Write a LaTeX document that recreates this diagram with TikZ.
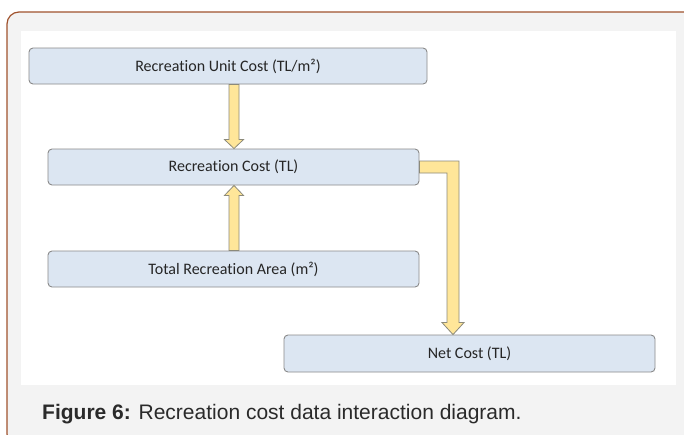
\documentclass[tikz,border=0pt]{standalone}
\usepackage{fontspec}
\setmainfont[Ligatures=NoCommon]{Carlito}
\newfontfamily\capfont{Liberation Sans}
\usetikzlibrary{calc}
\definecolor{boxfill}{HTML}{DCE6F2}
\definecolor{boxline}{HTML}{8A8A8A}
\definecolor{arrfill}{HTML}{FFE699}
\definecolor{arrline}{HTML}{8C8A7A}
\definecolor{framefill}{HTML}{F3F3F3}
\definecolor{frameline}{HTML}{A0522D}
\definecolor{captext}{HTML}{2A2A2A}
\tikzset{
  databox/.style={draw=boxline, fill=boxfill, line width=0.9pt, rounded corners=4pt,
    minimum height=36pt, inner sep=0pt, font=\fontsize{16}{19}\selectfont, text=black!85},
  blockarrow/.style={draw=arrline, fill=arrfill, line width=0.8pt, line join=miter}
}
\begin{document}
\begin{tikzpicture}[x=1pt,y=-1pt]
\useasboundingbox (0,0) rectangle (684,434);
\clip (0,0) rectangle (684,434);
\fill[white] (0,0) rectangle (684,434);
% outer frame
\draw[frameline, fill=framefill, line width=1.2pt, rounded corners=12pt] (7,12) rectangle (696,446);
% inner white panel
\fill[white] (21,31) rectangle (676,385);
% boxes
\node[databox, minimum width=398pt] (b1) at (228,66) {Recreation Unit Cost (TL/m²)};
\node[databox, minimum width=371pt] (b2) at (233.5,167) {Recreation Cost (TL)};
\node[databox, minimum width=371pt] (b3) at (233.5,269) {Total Recreation Area (m²)};
\node[databox, minimum width=371pt, minimum height=37pt] (b4) at (469.5,353.5) {Net Cost (TL)};
\coordinate (ax) at (234,0);
\coordinate (cx) at (453,0);
% arrow 1: b1 -> b2 (down); canvas y grows upward inside let
\path let \p1=(ax), \p2=(b1.south), \p3=(b2.north) in
  coordinate (a1s) at (\x1,\y2) coordinate (a1t) at (\x1,\y3);
\draw[blockarrow] let \p1=(a1s), \p2=(a1t) in
  (\x1-5pt,\y1) -- (\x1+5pt,\y1) -- (\x1+5pt,\y2+9pt) -- (\x1+9.5pt,\y2+9pt) -- (\x1,\y2)
  -- (\x1-9.5pt,\y2+9pt) -- (\x1-5pt,\y2+9pt) -- cycle;
% arrow 2: b3 -> b2 (up)
\path let \p1=(ax), \p2=(b3.north), \p3=(b2.south) in
  coordinate (a2s) at (\x1,\y2) coordinate (a2t) at (\x1,\y3);
\draw[blockarrow] let \p1=(a2s), \p2=(a2t) in
  (\x1-5pt,\y1) -- (\x1+5pt,\y1) -- (\x1+5pt,\y2-10pt) -- (\x1+9.5pt,\y2-10pt) -- (\x1,\y2)
  -- (\x1-9.5pt,\y2-10pt) -- (\x1-5pt,\y2-10pt) -- cycle;
% arrow 3: b2 -> b4 (elbow)
\path let \p1=(cx), \p2=(b2.east), \p3=(b4.north) in
  coordinate (a3s) at (\x2,\y2) coordinate (a3c) at (\x1,\y2) coordinate (a3t) at (\x1,\y3);
\draw[blockarrow] let \p1=(a3s), \p2=(a3c), \p3=(a3t) in
  (\x1,\y1+6pt) -- (\x2+6pt,\y2+6pt) -- (\x3+6pt,\y3+12pt) -- (\x3+11pt,\y3+12pt) -- (\x3,\y3)
  -- (\x3-11pt,\y3+12pt) -- (\x3-6pt,\y3+12pt) -- (\x2-6pt,\y2-6pt) -- (\x1,\y1-6pt) -- cycle;
% caption
\node[anchor=base west, inner sep=0pt, text=captext, font=\capfont\fontsize{21}{25}\selectfont] (cap) at (42,419)
  {\textbf{Figure 6:} Recreation cost data interaction diagram.};
\end{tikzpicture}
\end{document}
